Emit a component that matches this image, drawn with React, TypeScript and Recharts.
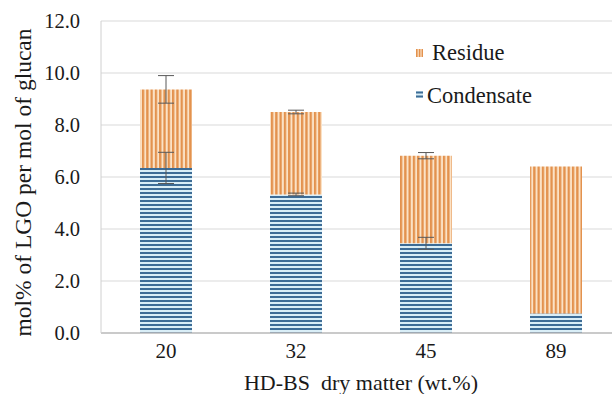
import React from 'react';
import { BarChart, Bar, XAxis, YAxis, CartesianGrid, ErrorBar, Legend } from 'recharts';

const categories = ['20', '32', '45', '89'];
const condensate = [6.35, 5.33, 3.45, 0.75];
const residue = [3.02, 3.17, 3.37, 5.65];
const condensateErr = [0.6, 0.05, 0.23, 0];
const residueErr = [0.53, 0.07, 0.12, 0];
const yTicks = [0, 2, 4, 6, 8, 10, 12];
const seriesNames = { condensate: 'Condensate', residue: 'Residue' };
const yTitle = 'mol% of LGO per mol of glucan';
const xTitle = 'HD-BS  dry matter (wt.%)';

const data = categories.map((c, i) => ({
  cat: c,
  condensate: condensate[i],
  residue: residue[i],
  condensateErr: condensateErr[i],
  residueErr: residueErr[i],
}));

const FONT = "'Liberation Serif', 'Times New Roman', serif";
const ORANGE_D = '#E3924E';
const ORANGE_L = '#FBE2C6';
const BLUE_D = '#3D6C96';
const BLUE_L = '#D9EEF7';
const TXT = '#1a1a1a';

const textStyle = (size: number, extra: any = {}) => ({ fontFamily: FONT, fontSize: size, fill: TXT, ...extra });

const YTitle = (props: any) => {
  const vb = props.viewBox || { x: 0, y: 21, width: 101, height: 312 };
  const x = vb.x + 31;
  const y = vb.y + vb.height / 2 + 5.5;
  return (
    <text x={x} y={y} transform={`rotate(-90, ${x}, ${y})`} textAnchor="middle" style={textStyle(23.5)}>
      {yTitle}
    </text>
  );
};

const XTitle = (props: any) => {
  const vb = props.viewBox || { x: 101, y: 333, width: 520, height: 67 };
  return (
    <text x={vb.x + vb.width / 2} y={vb.y + 57} textAnchor="middle" style={textStyle(22, { whiteSpace: 'pre' })}>
      {xTitle}
    </text>
  );
};

const XTick = (props: any) => {
  const { x, y, payload } = props;
  return (
    <text x={x} y={y + 15} textAnchor="middle" style={textStyle(21)}>
      {payload.value}
    </text>
  );
};

const YTick = (props: any) => {
  const { x, y, payload } = props;
  return (
    <text x={x} y={y + 7} textAnchor="end" style={textStyle(20.5)}>
      {Number(payload.value).toFixed(1)}
    </text>
  );
};

const LegendContent = (props: any) => {
  const items = [...(props.payload || [])].reverse();
  return (
    <svg width={170} height={80} style={{ display: 'block' }}>
      {items.map((it: any, i: number) => {
        const isRes = it.dataKey === 'residue';
        const oy = i * 42;
        return (
          <g key={it.dataKey}>
            {isRes ? (
              <g>
                <rect x={3} y={11 + oy} width={7} height={8} fill={ORANGE_L} />
                <rect x={3} y={11 + oy} width={1.6} height={8} fill={ORANGE_D} />
                <rect x={5.8} y={11 + oy} width={1.6} height={8} fill={ORANGE_D} />
                <rect x={8.6} y={11 + oy} width={1.4} height={8} fill={ORANGE_D} />
              </g>
            ) : (
              <g>
                <rect x={3} y={11 + oy} width={7} height={7} fill={BLUE_L} />
                <rect x={3} y={11.5 + oy} width={7} height={2} fill={BLUE_D} />
                <rect x={3} y={15.5 + oy} width={7} height={2} fill={BLUE_D} />
              </g>
            )}
            <text x={isRes ? 19 : 14} y={22 + oy + (isRes ? 0 : 1)} style={textStyle(22.5)}>
              {it.value}
            </text>
          </g>
        );
      })}
    </svg>
  );
};

export default function App() {
  return (
    <div style={{ position: 'fixed', left: 0, top: 0, width: 612, height: 394, overflow: 'hidden', background: '#fff', fontFamily: FONT }}>
      <BarChart width={628} height={400} data={data} margin={{ top: 21, right: 7, left: 0, bottom: 0 }}
        barCategoryGap="30%">
        <defs>
          <pattern id="resPat" patternUnits="userSpaceOnUse" width={4.3} height={10}>
            <rect x={0} y={0} width={4.3} height={10} fill={ORANGE_L} />
            <rect x={0} y={0} width={2.3} height={10} fill={ORANGE_D} />
          </pattern>
          <pattern id="condPat" patternUnits="userSpaceOnUse" width={10} height={4}>
            <rect x={0} y={0} width={10} height={4} fill={BLUE_L} />
            <rect x={0} y={0} width={10} height={2} fill={BLUE_D} />
          </pattern>
        </defs>
        <CartesianGrid vertical={false} stroke="#D9D9D9" strokeWidth={1} />
        <XAxis dataKey="cat" height={67} tickLine={false} tickSize={0} tickMargin={10}
          axisLine={{ stroke: '#BFBFBF', strokeWidth: 1.3 }}
          tick={<XTick />}
          label={<XTitle />} />
        <YAxis width={101} domain={[0, 12]} ticks={yTicks} tickLine={false} tickSize={0} tickMargin={21}
          axisLine={{ stroke: '#D0D0D0', strokeWidth: 1 }}
          tick={<YTick />}
          label={<YTitle />} />
        <Legend layout="horizontal" verticalAlign="middle" align="center" content={<LegendContent />}
          wrapperStyle={{ left: 413, top: 38, width: 170, height: 80 }} />
        <Bar dataKey="condensate" name={seriesNames.condensate} stackId="a" fill="url(#condPat)" isAnimationActive={false}>
          <ErrorBar dataKey="condensateErr" width={8} stroke="#595959" strokeWidth={1} />
        </Bar>
        <Bar dataKey="residue" name={seriesNames.residue} stackId="a" fill="url(#resPat)" isAnimationActive={false}>
          <ErrorBar dataKey="residueErr" width={8} stroke="#595959" strokeWidth={1} />
        </Bar>
      </BarChart>
    </div>
  );
}
